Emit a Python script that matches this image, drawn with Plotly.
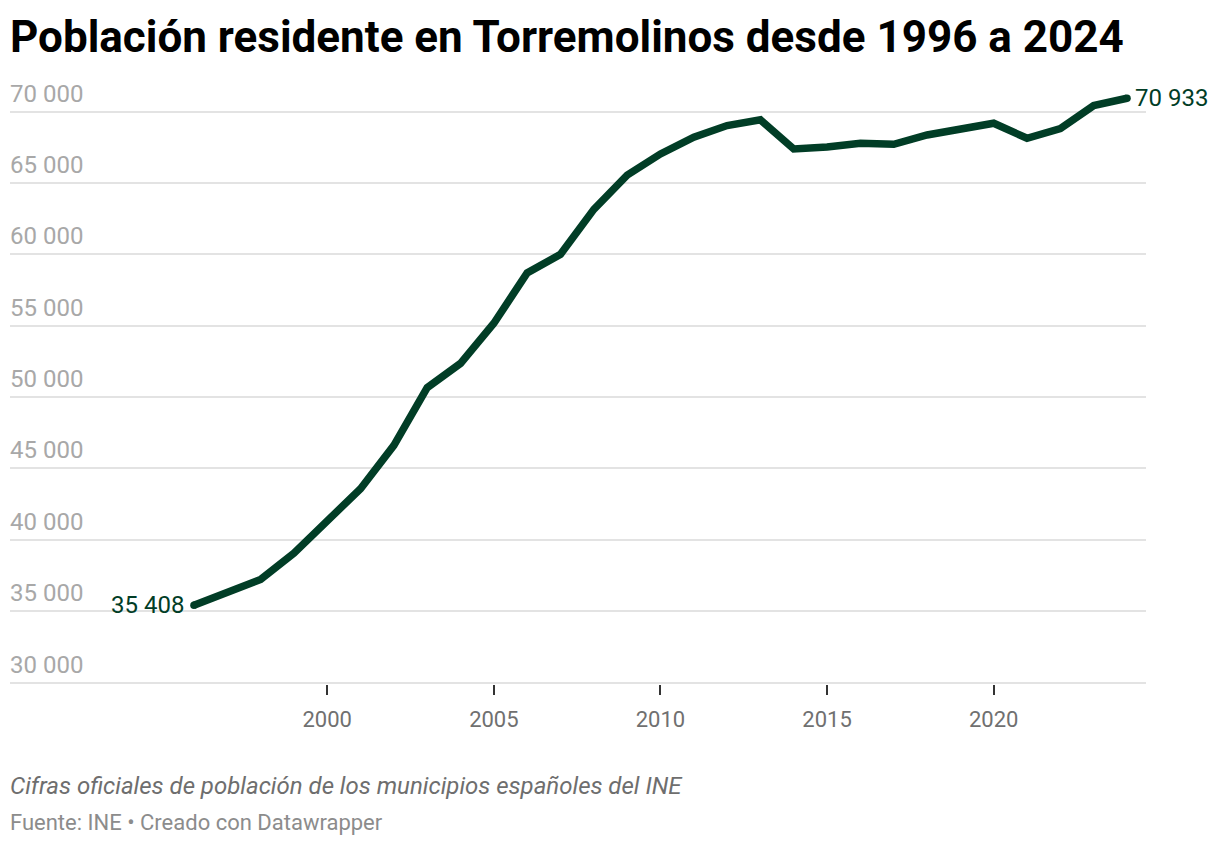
import plotly.graph_objects as go

years = [1996, 1998, 1999, 2000, 2001, 2002, 2003, 2004, 2005, 2006, 2007, 2008, 2009,
         2010, 2011, 2012, 2013, 2014, 2015, 2016, 2017, 2018, 2019, 2020, 2021, 2022,
         2023, 2024]
population = [35408, 37220, 39070, 41300, 43580, 46620, 50660, 52360, 55170, 58700, 60000,
              63150, 65550, 67030, 68200, 69020, 69420, 67380, 67510, 67780, 67710, 68360,
              68710, 69180, 68130, 68800, 70420, 70933]
y_ticks = [30000, 35000, 40000, 45000, 50000, 55000, 60000, 65000, 70000]
x_ticks = [2000, 2005, 2010, 2015, 2020]

title = "Población residente en Torremolinos desde 1996 a 2024"
caption = "Cifras oficiales de población de los municipios españoles del INE"
footer = "Fuente: INE • Creado con Datawrapper"

LINE = "#013d26"
FONT = "Roboto"


def fmt(v):
    return f"{v:,}".replace(",", " ")


fig = go.Figure()
fig.add_trace(go.Scatter(
    x=years, y=population, mode="lines",
    line=dict(color=LINE, width=7.5), cliponaxis=False, hoverinfo="x+y",
))
# round line caps at both ends
fig.add_trace(go.Scatter(
    x=[years[0], years[-1]], y=[population[0], population[-1]], mode="markers",
    marker=dict(color=LINE, size=7.5, line=dict(width=0)), cliponaxis=False,
    hoverinfo="skip",
))

# page offset of the plot (body margin of the page)
OFF = 8
PLOT_TOP, PLOT_BOTTOM = 83.45, 684.4
PLOT_H = PLOT_BOTTOM - PLOT_TOP

for v in y_ticks:
    fig.add_annotation(
        x=0, xref="paper", y=v, yref="y", text=fmt(v), showarrow=False,
        xanchor="left", yanchor="bottom", yshift=2, xshift=-2,
        font=dict(family=FONT, size=24, color="#a8a8a8"),
    )
fig.add_annotation(
    x=years[0], y=population[0], xref="x", yref="y", text=fmt(population[0]),
    showarrow=False, xanchor="right", yanchor="middle", xshift=-8,
    font=dict(family=FONT, size=24, color=LINE),
)
fig.add_annotation(
    x=years[-1], y=population[-1], xref="x", yref="y", text=fmt(population[-1]),
    showarrow=False, xanchor="left", yanchor="middle", xshift=6,
    font=dict(family=FONT, size=24, color=LINE),
)
fig.add_annotation(
    text=f"<i>{caption}</i>", xref="paper", yref="paper",
    x=0, y=(PLOT_BOTTOM - 786) / PLOT_H, xanchor="left", yanchor="middle", showarrow=False,
    xshift=-2, font=dict(family=FONT, size=24, color="#6e6e6e"),
)
fig.add_annotation(
    text=footer, xref="paper", yref="paper",
    x=0, y=(PLOT_BOTTOM - 823) / PLOT_H, xanchor="left", yanchor="middle", showarrow=False,
    xshift=-2, font=dict(family=FONT, size=22, color="#8c8c8c"),
)

fig.update_layout(
    width=1220, height=848,
    margin=dict(l=10 - OFF, r=1220 - 1146 + OFF, t=PLOT_TOP - OFF, b=848 - (PLOT_BOTTOM - OFF)),
    paper_bgcolor="white", plot_bgcolor="white",
    showlegend=False,
    font=dict(family=FONT),
    title=dict(
        text=f"<b>{title}</b>", x=(10 - OFF) / 1220, xanchor="left", xref="container",
        y=1 - (37 - OFF) / 848, yanchor="middle", yref="container",
        font=dict(family=FONT, size=44, color="#000000"),
    ),
    xaxis=dict(
        range=[1990.48, 2024.57], tickvals=x_ticks, ticktext=[str(t) for t in x_ticks],
        showgrid=False, zeroline=False, showline=False,
        ticks="outside", ticklen=10, tickwidth=2, tickcolor="#333333",
        ticklabelstandoff=6,
        tickfont=dict(family=FONT, size=22, color="#707070"),
    ),
    yaxis=dict(
        range=[29900, 72000], tickvals=y_ticks, showticklabels=False,
        showgrid=True, gridcolor="#e3e3e3", gridwidth=2, zeroline=False, showline=False,
    ),
)

fig.write_html("out.html")
